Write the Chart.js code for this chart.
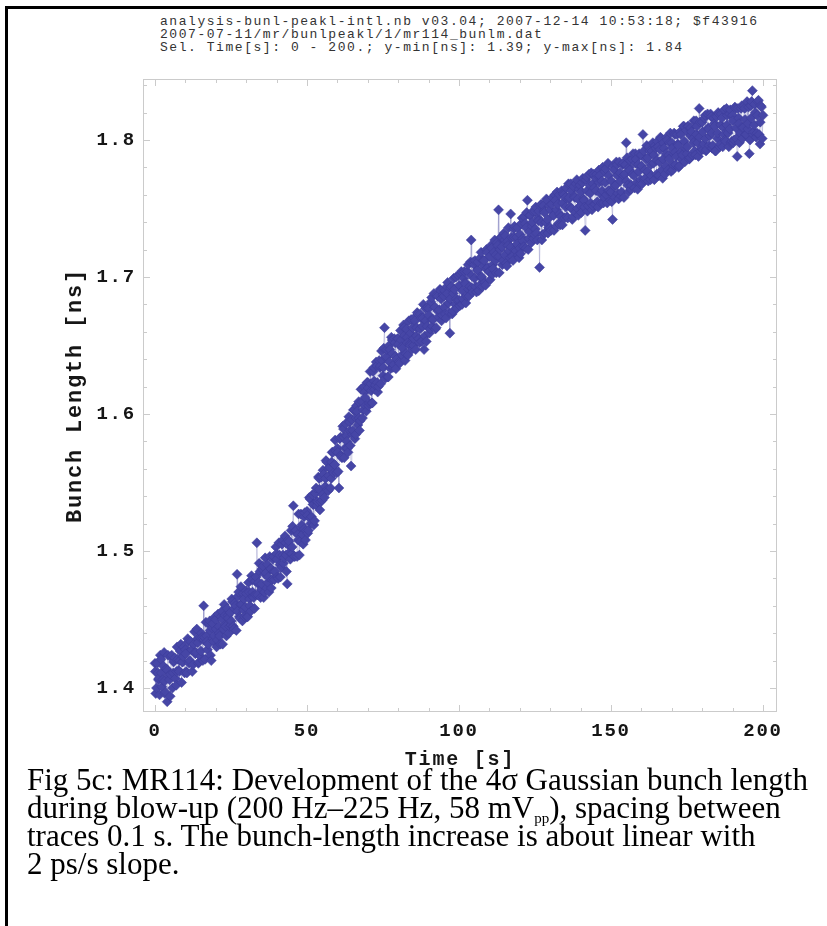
<!DOCTYPE html>
<html>
<head>
<meta charset="utf-8">
<script src="https://cdn.jsdelivr.net/npm/chart.js@4/dist/chart.umd.min.js"></script>
<style>
  html, body { margin: 0; padding: 0; background: #fff; }
  body { width: 827px; height: 926px; position: relative; overflow: hidden; }
  #frame { position: absolute; left: 5px; top: 6px; width: 830px; height: 930px;
           border-top: 3px solid #000; border-left: 3px solid #000; }
  #hdr { position: absolute; left: 160px; top: 15px; font-family: 'Liberation Mono', monospace;
         font-size: 13px; letter-spacing: 1.55px; line-height: 13px; color: #333; white-space: pre; }
  #cap { position: absolute; left: 27px; top: 766px; font-family: 'Liberation Serif', serif;
         font-size: 31px; line-height: 28px; color: #000; white-space: nowrap; }
  #cap .sub { font-size: 15px; line-height: 0; vertical-align: -5px; }
  #c { position: absolute; left: 0; top: 0; }
</style>
</head>
<body>
<div id="frame"></div>
<div id="hdr">analysis-bunl-peakl-intl.nb v03.04; 2007-12-14 10:53:18; $f43916
2007-07-11/mr/bunlpeakl/1/mr114_bunlm.dat
Sel. Time[s]: 0 - 200.; y-min[ns]: 1.39; y-max[ns]: 1.84</div>
<canvas id="c" width="827" height="790"></canvas>
<div id="cap">Fig 5c: MR114: Development of the 4σ Gaussian bunch length<br>during blow-up (200 Hz–225 Hz, 58 mV<span class="sub">pp</span>), spacing between<br>traces 0.1 s. The bunch-length increase is about linear with<br>2 ps/s slope.</div>
<script>
// ---- data, traces at whole and half seconds ----
const timeSeconds = [
  0,0.5,1,1.5,2,2.5,3,3.5,4,4.5,
  5,5.5,6,6.5,7,7.5,8,8.5,9,9.5,
  10,10.5,11,11.5,12,12.5,13,13.5,14,14.5,
  15,15.5,16,16.5,17,17.5,18,18.5,19,19.5,
  20,20.5,21,21.5,22,22.5,23,23.5,24,24.5,
  25,25.5,26,26.5,27,27.5,28,28.5,29,29.5,
  30,30.5,31,31.5,32,32.5,33,33.5,34,34.5,
  35,35.5,36,36.5,37,37.5,38,38.5,39,39.5,
  40,40.5,41,41.5,42,42.5,43,43.5,44,44.5,
  45,45.5,46,46.5,47,47.5,48,48.5,49,49.5,
  50,50.5,51,51.5,52,52.5,53,53.5,54,54.5,
  55,55.5,56,56.5,57,57.5,58,58.5,59,59.5,
  60,60.5,61,61.5,62,62.5,63,63.5,64,64.5,
  65,65.5,66,66.5,67,67.5,68,68.5,69,69.5,
  70,70.5,71,71.5,72,72.5,73,73.5,74,74.5,
  75,75.5,76,76.5,77,77.5,78,78.5,79,79.5,
  80,80.5,81,81.5,82,82.5,83,83.5,84,84.5,
  85,85.5,86,86.5,87,87.5,88,88.5,89,89.5,
  90,90.5,91,91.5,92,92.5,93,93.5,94,94.5,
  95,95.5,96,96.5,97,97.5,98,98.5,99,99.5,
  100,100.5,101,101.5,102,102.5,103,103.5,104,104.5,
  105,105.5,106,106.5,107,107.5,108,108.5,109,109.5,
  110,110.5,111,111.5,112,112.5,113,113.5,114,114.5,
  115,115.5,116,116.5,117,117.5,118,118.5,119,119.5,
  120,120.5,121,121.5,122,122.5,123,123.5,124,124.5,
  125,125.5,126,126.5,127,127.5,128,128.5,129,129.5,
  130,130.5,131,131.5,132,132.5,133,133.5,134,134.5,
  135,135.5,136,136.5,137,137.5,138,138.5,139,139.5,
  140,140.5,141,141.5,142,142.5,143,143.5,144,144.5,
  145,145.5,146,146.5,147,147.5,148,148.5,149,149.5,
  150,150.5,151,151.5,152,152.5,153,153.5,154,154.5,
  155,155.5,156,156.5,157,157.5,158,158.5,159,159.5,
  160,160.5,161,161.5,162,162.5,163,163.5,164,164.5,
  165,165.5,166,166.5,167,167.5,168,168.5,169,169.5,
  170,170.5,171,171.5,172,172.5,173,173.5,174,174.5,
  175,175.5,176,176.5,177,177.5,178,178.5,179,179.5,
  180,180.5,181,181.5,182,182.5,183,183.5,184,184.5,
  185,185.5,186,186.5,187,187.5,188,188.5,189,189.5,
  190,190.5,191,191.5,192,192.5,193,193.5,194,194.5,
  195,195.5,196,196.5,197,197.5,198,198.5,199,199.5,
  200
];
const bunchLengthNs = [
  1.418,1.400,1.411,1.395,1.421,1.406,1.426,1.397,1.390,1.409,
  1.394,1.424,1.411,1.422,1.402,1.421,1.412,1.432,1.419,1.430,
  1.428,1.411,1.434,1.420,1.428,1.417,1.441,1.426,1.436,1.419,
  1.423,1.437,1.460,1.421,1.438,1.432,1.449,1.420,1.447,1.438,
  1.450,1.435,1.445,1.432,1.456,1.443,1.453,1.438,1.453,1.445,
  1.446,1.463,1.443,1.460,1.483,1.470,1.451,1.461,1.469,1.452,
  1.471,1.452,1.470,1.456,1.479,1.466,1.478,1.506,1.476,1.485,
  1.472,1.489,1.470,1.484,1.490,1.470,1.487,1.479,1.496,1.485,
  1.498,1.480,1.497,1.488,1.508,1.495,1.506,1.476,1.504,1.494,
  1.498,1.533,1.496,1.515,1.512,1.497,1.527,1.512,1.525,1.508,
  1.529,1.515,1.538,1.525,1.534,1.522,1.546,1.536,1.553,1.536,
  1.537,1.556,1.547,1.565,1.544,1.561,1.553,1.572,1.563,1.573,
  1.575,1.546,1.583,1.568,1.589,1.575,1.584,1.572,1.594,1.562,
  1.585,1.603,1.585,1.602,1.609,1.595,1.618,1.603,1.616,1.602,
  1.623,1.608,1.622,1.608,1.634,1.621,1.635,1.620,1.634,1.646,
  1.628,1.663,1.641,1.627,1.650,1.633,1.654,1.636,1.652,1.640,
  1.655,1.637,1.654,1.648,1.663,1.644,1.656,1.668,1.650,1.647,
  1.650,1.668,1.657,1.673,1.652,1.670,1.664,1.647,1.677,1.664,
  1.677,1.662,1.685,1.669,1.678,1.663,1.686,1.676,1.690,1.672,
  1.686,1.673,1.693,1.681,1.659,1.693,1.675,1.691,1.700,1.683,
  1.683,1.702,1.680,1.699,1.696,1.686,1.709,1.693,1.727,1.689,
  1.709,1.693,1.705,1.690,1.714,1.700,1.712,1.696,1.720,1.707,
  1.704,1.723,1.702,1.718,1.712,1.725,1.749,1.720,1.729,1.712,
  1.727,1.710,1.726,1.719,1.746,1.715,1.735,1.720,1.729,1.716,
  1.721,1.739,1.728,1.744,1.721,1.756,1.728,1.745,1.737,1.728,
  1.748,1.732,1.743,1.707,1.753,1.731,1.748,1.740,1.756,1.736,
  1.736,1.753,1.745,1.760,1.737,1.753,1.760,1.744,1.738,1.760,
  1.758,1.744,1.768,1.751,1.763,1.744,1.759,1.768,1.750,1.764,
  1.752,1.769,1.757,1.734,1.773,1.752,1.767,1.776,1.752,1.765,
  1.772,1.755,1.778,1.761,1.770,1.754,1.777,1.760,1.783,1.763,
  1.762,1.742,1.778,1.767,1.782,1.757,1.776,1.762,1.783,1.775,
  1.798,1.767,1.780,1.764,1.786,1.774,1.790,1.769,1.782,1.768,
  1.789,1.804,1.771,1.786,1.777,1.795,1.771,1.792,1.783,1.796,
  1.775,1.795,1.784,1.801,1.772,1.794,1.781,1.800,1.789,1.805,
  1.798,1.782,1.804,1.788,1.797,1.781,1.804,1.789,1.810,1.794,
  1.790,1.810,1.787,1.806,1.801,1.792,1.814,1.798,1.823,1.792,
  1.813,1.797,1.818,1.793,1.809,1.803,1.817,1.796,1.812,1.792,
  1.801,1.819,1.797,1.816,1.809,1.800,1.823,1.805,1.819,1.798,
  1.818,1.800,1.823,1.788,1.816,1.805,1.825,1.809,1.823,1.804,
  1.808,1.790,1.825,1.836,1.806,1.820,1.805,1.829,1.797,1.824,
  1.818
];
// traces in between (quarter-second offsets)
const timeSecondsMid = [
  0.25,0.75,1.25,1.75,2.25,2.75,3.25,3.75,4.25,4.75,
  5.25,5.75,6.25,6.75,7.25,7.75,8.25,8.75,9.25,9.75,
  10.25,10.75,11.25,11.75,12.25,12.75,13.25,13.75,14.25,14.75,
  15.25,15.75,16.25,16.75,17.25,17.75,18.25,18.75,19.25,19.75,
  20.25,20.75,21.25,21.75,22.25,22.75,23.25,23.75,24.25,24.75,
  25.25,25.75,26.25,26.75,27.25,27.75,28.25,28.75,29.25,29.75,
  30.25,30.75,31.25,31.75,32.25,32.75,33.25,33.75,34.25,34.75,
  35.25,35.75,36.25,36.75,37.25,37.75,38.25,38.75,39.25,39.75,
  40.25,40.75,41.25,41.75,42.25,42.75,43.25,43.75,44.25,44.75,
  45.25,45.75,46.25,46.75,47.25,47.75,48.25,48.75,49.25,49.75,
  50.25,50.75,51.25,51.75,52.25,52.75,53.25,53.75,54.25,54.75,
  55.25,55.75,56.25,56.75,57.25,57.75,58.25,58.75,59.25,59.75,
  60.25,60.75,61.25,61.75,62.25,62.75,63.25,63.75,64.25,64.75,
  65.25,65.75,66.25,66.75,67.25,67.75,68.25,68.75,69.25,69.75,
  70.25,70.75,71.25,71.75,72.25,72.75,73.25,73.75,74.25,74.75,
  75.25,75.75,76.25,76.75,77.25,77.75,78.25,78.75,79.25,79.75,
  80.25,80.75,81.25,81.75,82.25,82.75,83.25,83.75,84.25,84.75,
  85.25,85.75,86.25,86.75,87.25,87.75,88.25,88.75,89.25,89.75,
  90.25,90.75,91.25,91.75,92.25,92.75,93.25,93.75,94.25,94.75,
  95.25,95.75,96.25,96.75,97.25,97.75,98.25,98.75,99.25,99.75,
  100.25,100.75,101.25,101.75,102.25,102.75,103.25,103.75,104.25,104.75,
  105.25,105.75,106.25,106.75,107.25,107.75,108.25,108.75,109.25,109.75,
  110.25,110.75,111.25,111.75,112.25,112.75,113.25,113.75,114.25,114.75,
  115.25,115.75,116.25,116.75,117.25,117.75,118.25,118.75,119.25,119.75,
  120.25,120.75,121.25,121.75,122.25,122.75,123.25,123.75,124.25,124.75,
  125.25,125.75,126.25,126.75,127.25,127.75,128.25,128.75,129.25,129.75,
  130.25,130.75,131.25,131.75,132.25,132.75,133.25,133.75,134.25,134.75,
  135.25,135.75,136.25,136.75,137.25,137.75,138.25,138.75,139.25,139.75,
  140.25,140.75,141.25,141.75,142.25,142.75,143.25,143.75,144.25,144.75,
  145.25,145.75,146.25,146.75,147.25,147.75,148.25,148.75,149.25,149.75,
  150.25,150.75,151.25,151.75,152.25,152.75,153.25,153.75,154.25,154.75,
  155.25,155.75,156.25,156.75,157.25,157.75,158.25,158.75,159.25,159.75,
  160.25,160.75,161.25,161.75,162.25,162.75,163.25,163.75,164.25,164.75,
  165.25,165.75,166.25,166.75,167.25,167.75,168.25,168.75,169.25,169.75,
  170.25,170.75,171.25,171.75,172.25,172.75,173.25,173.75,174.25,174.75,
  175.25,175.75,176.25,176.75,177.25,177.75,178.25,178.75,179.25,179.75,
  180.25,180.75,181.25,181.75,182.25,182.75,183.25,183.75,184.25,184.75,
  185.25,185.75,186.25,186.75,187.25,187.75,188.25,188.75,189.25,189.75,
  190.25,190.75,191.25,191.75,192.25,192.75,193.25,193.75,194.25,194.75,
  195.25,195.75,196.25,196.75,197.25,197.75,198.25,198.75,199.25,199.75
];
const bunchLengthNsMid = [
  1.396,1.418,1.407,1.424,1.401,1.416,1.396,1.414,1.424,1.406,
  1.423,1.400,1.420,1.407,1.430,1.413,1.427,1.404,1.423,1.411,
  1.412,1.436,1.418,1.434,1.412,1.432,1.425,1.443,1.418,1.437,
  1.440,1.420,1.437,1.448,1.428,1.447,1.424,1.444,1.434,1.452,
  1.430,1.454,1.438,1.452,1.432,1.461,1.445,1.458,1.440,1.455,
  1.465,1.445,1.462,1.442,1.467,1.452,1.474,1.449,1.465,1.459,
  1.452,1.477,1.460,1.482,1.467,1.458,1.481,1.468,1.491,1.466,
  1.487,1.466,1.495,1.473,1.481,1.496,1.473,1.494,1.479,1.503,
  1.481,1.506,1.481,1.505,1.491,1.511,1.485,1.508,1.499,1.515,
  1.518,1.496,1.515,1.496,1.527,1.507,1.519,1.505,1.528,1.515,
  1.513,1.539,1.520,1.541,1.519,1.542,1.533,1.554,1.530,1.554,
  1.559,1.539,1.566,1.545,1.561,1.546,1.572,1.557,1.581,1.557,
  1.558,1.582,1.569,1.591,1.568,1.593,1.575,1.598,1.577,1.596,
  1.603,1.582,1.606,1.592,1.588,1.618,1.597,1.620,1.606,1.623,
  1.606,1.631,1.608,1.631,1.618,1.638,1.616,1.639,1.622,1.639,
  1.648,1.626,1.647,1.627,1.647,1.656,1.634,1.655,1.633,1.655,
  1.638,1.661,1.643,1.665,1.639,1.662,1.643,1.651,1.669,1.663,
  1.670,1.647,1.674,1.655,1.673,1.653,1.680,1.657,1.653,1.678,
  1.659,1.682,1.664,1.688,1.662,1.687,1.671,1.691,1.668,1.687,
  1.690,1.670,1.696,1.674,1.692,1.673,1.699,1.680,1.677,1.701,
  1.679,1.704,1.684,1.704,1.681,1.704,1.686,1.711,1.692,1.711,
  1.712,1.689,1.711,1.694,1.718,1.693,1.712,1.694,1.718,1.704,
  1.698,1.721,1.706,1.727,1.703,1.723,1.703,1.729,1.709,1.732,
  1.730,1.708,1.736,1.714,1.729,1.712,1.737,1.719,1.736,1.714,
  1.717,1.743,1.722,1.739,1.747,1.720,1.745,1.725,1.748,1.731,
  1.751,1.727,1.748,1.752,1.727,1.752,1.732,1.757,1.732,1.752,
  1.734,1.758,1.734,1.756,1.762,1.739,1.738,1.763,1.761,1.743,
  1.765,1.743,1.758,1.768,1.742,1.766,1.747,1.771,1.745,1.767,
  1.747,1.772,1.751,1.771,1.748,1.775,1.754,1.749,1.775,1.753,
  1.775,1.751,1.774,1.754,1.780,1.758,1.779,1.754,1.774,1.756,
  1.755,1.781,1.758,1.784,1.761,1.784,1.759,1.782,1.758,1.782,
  1.787,1.762,1.785,1.767,1.790,1.765,1.786,1.764,1.790,1.771,
  1.768,1.792,1.772,1.796,1.770,1.792,1.774,1.798,1.771,1.794,
  1.799,1.774,1.802,1.778,1.798,1.775,1.802,1.778,1.798,1.777,
  1.778,1.805,1.782,1.804,1.780,1.806,1.786,1.810,1.784,1.807,
  1.810,1.786,1.809,1.789,1.814,1.789,1.810,1.788,1.813,1.794,
  1.793,1.816,1.792,1.819,1.796,1.819,1.794,1.816,1.792,1.817,
  1.820,1.795,1.819,1.795,1.822,1.799,1.818,1.795,1.822,1.799,
  1.798,1.824,1.801,1.823,1.798,1.823,1.801,1.825,1.804,1.828,
  1.824,1.800,1.828,1.804,1.826,1.802,1.828,1.804,1.825,1.801
];
// traces near the middle of the band (one per second)
const timeSecondsCore = [
  0.1,1.1,2.1,3.1,4.1,5.1,6.1,7.1,8.1,9.1,
  10.1,11.1,12.1,13.1,14.1,15.1,16.1,17.1,18.1,19.1,
  20.1,21.1,22.1,23.1,24.1,25.1,26.1,27.1,28.1,29.1,
  30.1,31.1,32.1,33.1,34.1,35.1,36.1,37.1,38.1,39.1,
  40.1,41.1,42.1,43.1,44.1,45.1,46.1,47.1,48.1,49.1,
  50.1,51.1,52.1,53.1,54.1,55.1,56.1,57.1,58.1,59.1,
  60.1,61.1,62.1,63.1,64.1,65.1,66.1,67.1,68.1,69.1,
  70.1,71.1,72.1,73.1,74.1,75.1,76.1,77.1,78.1,79.1,
  80.1,81.1,82.1,83.1,84.1,85.1,86.1,87.1,88.1,89.1,
  90.1,91.1,92.1,93.1,94.1,95.1,96.1,97.1,98.1,99.1,
  100.1,101.1,102.1,103.1,104.1,105.1,106.1,107.1,108.1,109.1,
  110.1,111.1,112.1,113.1,114.1,115.1,116.1,117.1,118.1,119.1,
  120.1,121.1,122.1,123.1,124.1,125.1,126.1,127.1,128.1,129.1,
  130.1,131.1,132.1,133.1,134.1,135.1,136.1,137.1,138.1,139.1,
  140.1,141.1,142.1,143.1,144.1,145.1,146.1,147.1,148.1,149.1,
  150.1,151.1,152.1,153.1,154.1,155.1,156.1,157.1,158.1,159.1,
  160.1,161.1,162.1,163.1,164.1,165.1,166.1,167.1,168.1,169.1,
  170.1,171.1,172.1,173.1,174.1,175.1,176.1,177.1,178.1,179.1,
  180.1,181.1,182.1,183.1,184.1,185.1,186.1,187.1,188.1,189.1,
  190.1,191.1,192.1,193.1,194.1,195.1,196.1,197.1,198.1,199.1
];
const bunchLengthNsCore = [
  1.412,1.406,1.411,1.405,1.413,1.410,1.419,1.412,1.420,1.419,
  1.425,1.419,1.428,1.426,1.433,1.427,1.435,1.434,1.442,1.436,
  1.443,1.440,1.450,1.446,1.451,1.449,1.458,1.456,1.461,1.457,
  1.469,1.465,1.470,1.468,1.477,1.476,1.483,1.477,1.487,1.485,
  1.494,1.490,1.497,1.497,1.507,1.503,1.514,1.508,1.517,1.516,
  1.526,1.524,1.534,1.536,1.545,1.541,1.553,1.555,1.565,1.563,
  1.572,1.570,1.583,1.580,1.588,1.588,1.597,1.597,1.609,1.612,
  1.619,1.617,1.624,1.623,1.635,1.634,1.642,1.638,1.644,1.642,
  1.651,1.649,1.657,1.652,1.659,1.655,1.663,1.662,1.670,1.668,
  1.672,1.669,1.678,1.675,1.684,1.678,1.688,1.684,1.688,1.684,
  1.694,1.690,1.695,1.691,1.701,1.699,1.705,1.700,1.708,1.706,
  1.715,1.709,1.716,1.715,1.722,1.716,1.723,1.722,1.729,1.724,
  1.731,1.726,1.736,1.733,1.740,1.735,1.741,1.740,1.747,1.742,
  1.749,1.745,1.749,1.746,1.754,1.751,1.757,1.750,1.758,1.757,
  1.762,1.756,1.763,1.761,1.768,1.763,1.769,1.763,1.769,1.763,
  1.770,1.766,1.774,1.770,1.774,1.770,1.778,1.775,1.783,1.777,
  1.781,1.778,1.787,1.782,1.789,1.785,1.793,1.786,1.790,1.786,
  1.794,1.791,1.796,1.791,1.799,1.795,1.803,1.798,1.804,1.802,
  1.806,1.801,1.808,1.805,1.810,1.805,1.811,1.804,1.811,1.808,
  1.814,1.809,1.812,1.809,1.815,1.812,1.816,1.811,1.818,1.813
];
const xMajorTicks = [0, 50, 100, 150, 200];
const yMajorTicks = [1.4, 1.5, 1.6, 1.7, 1.8];
const xTitle = 'Time [s]';
const yTitle = 'Bunch Length [ns]';

// ---- chart ----
const toPts = (ts, vs) => ts.map((t, i) => ({ x: t, y: vs[i] }));
const points = toPts(timeSeconds, bunchLengthNs)
  .concat(toPts(timeSecondsMid, bunchLengthNsMid))
  .concat(toPts(timeSecondsCore, bunchLengthNsCore))
  .sort((a, b) => a.x - b.x);
const isMajor = (v, list) => list.some(m => Math.abs(m - v) < 1e-6);
const mono = "'Liberation Mono', monospace";
const tickFont = { family: mono, size: 19, weight: 'bold' };

const frameTicks = {
  id: 'frameTicks',
  beforeDraw(chart) { chart.ctx.letterSpacing = '1.8px'; },
  beforeDatasetsDraw(chart) {
    const { ctx, chartArea: a, scales: { x, y } } = chart;
    ctx.save();
    ctx.strokeStyle = '#cbcbcb';
    ctx.lineWidth = 1;
    ctx.strokeRect(a.left + 0.5, a.top + 0.5, a.right - a.left - 1, a.bottom - a.top - 1);
    ctx.beginPath();
    x.ticks.forEach(t => {
      const px = Math.round(x.getPixelForValue(t.value)) + 0.5;
      const len = isMajor(t.value, xMajorTicks) ? 7 : 4;
      ctx.moveTo(px, a.bottom); ctx.lineTo(px, a.bottom - len);
      ctx.moveTo(px, a.top); ctx.lineTo(px, a.top + len);
    });
    y.ticks.forEach(t => {
      const py = Math.round(y.getPixelForValue(t.value)) + 0.5;
      const len = isMajor(t.value, yMajorTicks) ? 7 : 4;
      ctx.moveTo(a.left, py); ctx.lineTo(a.left + len, py);
      ctx.moveTo(a.right, py); ctx.lineTo(a.right - len, py);
    });
    ctx.stroke();
    ctx.restore();
  }
};

new Chart(document.getElementById('c'), {
  type: 'scatter',
  data: {
    datasets: [{
      data: points,
      showLine: true,
      borderColor: 'rgba(120,120,185,0.35)',
      borderWidth: 1,
      pointStyle: 'rectRot',
      pointRadius: 5,
      pointBackgroundColor: '#4646a6',
      pointBorderColor: '#3c3c9a',
      pointBorderWidth: 0.5
    }]
  },
  options: {
    responsive: false,
    animation: false,
    layout: { padding: { top: 79, right: 50, bottom: 0, left: 0 } },
    plugins: { legend: { display: false }, tooltip: { enabled: false } },
    scales: {
      x: {
        type: 'linear', min: -3.95, max: 204.6,
        grid: { display: false, drawTicks: false },
        border: { display: false },
        ticks: {
          stepSize: 10, autoSkip: false, maxRotation: 0, includeBounds: false,
          padding: 8, color: '#161616', font: tickFont,
          callback: v => isMajor(v, xMajorTicks) ? String(Math.round(v)) : ''
        },
        title: { display: true, text: xTitle, color: '#161616',
                 font: { family: mono, size: 20, weight: 'bold' }, padding: { top: 0, bottom: 18 } },
        afterFit: s => { s.height = 78; }
      },
      y: {
        type: 'linear', min: 1.3825, max: 1.8445,
        grid: { display: false, drawTicks: false },
        border: { display: false },
        ticks: {
          stepSize: 0.02, autoSkip: false, includeBounds: false,
          padding: 7, color: '#161616', font: tickFont,
          callback: v => isMajor(v, yMajorTicks) ? v.toFixed(1) : ''
        },
        title: { display: true, text: yTitle, color: '#161616',
                 font: { family: mono, size: 22, weight: 'bold' }, padding: { top: 62, bottom: 0 } },
        afterFit: s => { s.width = 143; }
      }
    }
  },
  plugins: [frameTicks]
});
</script>
</body>
</html>
